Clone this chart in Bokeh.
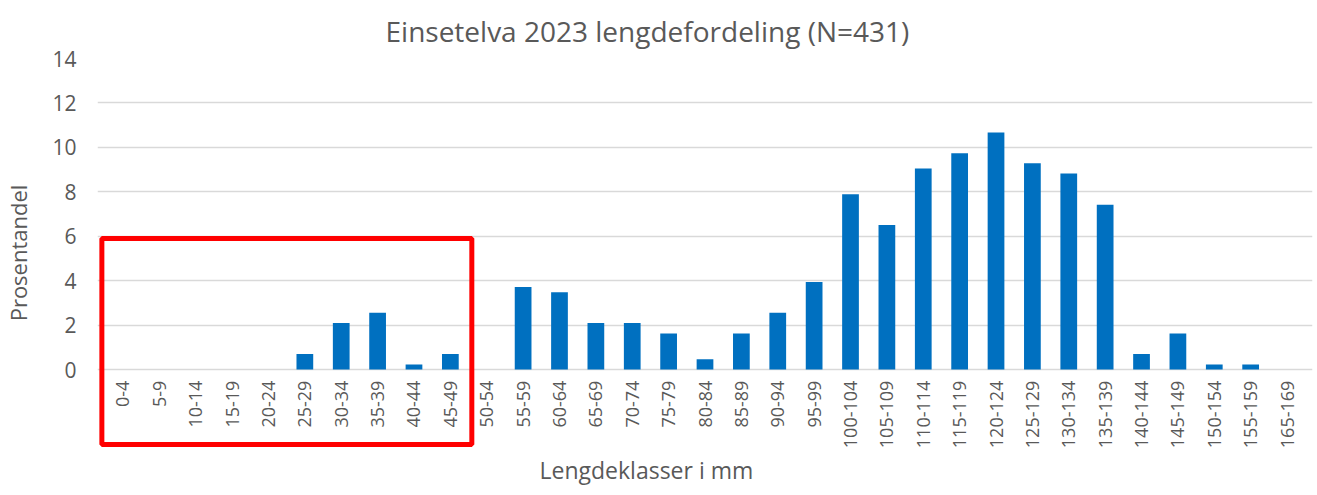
from bokeh.plotting import figure
from bokeh.models import ColumnDataSource, BoxAnnotation, FactorRange, Range1d, FixedTicker, Title
from bokeh.core.properties import value
from bokeh.embed import file_html
from bokeh.resources import INLINE
import math

categories = ["0-4", "5-9", "10-14", "15-19", "20-24", "25-29", "30-34", "35-39", "40-44", "45-49",
              "50-54", "55-59", "60-64", "65-69", "70-74", "75-79", "80-84", "85-89", "90-94", "95-99",
              "100-104", "105-109", "110-114", "115-119", "120-124", "125-129", "130-134", "135-139",
              "140-144", "145-149", "150-154", "155-159", "165-169"]
percent = [0, 0, 0, 0, 0, 0.70, 2.09, 2.55, 0.23, 0.70,
           0, 3.71, 3.48, 2.09, 2.09, 1.62, 0.46, 1.62, 2.55, 3.94,
           7.89, 6.50, 9.05, 9.74, 10.67, 9.28, 8.82, 7.42,
           0.70, 1.62, 0.23, 0.23, 0]
y_ticks = [0, 2, 4, 6, 8, 10, 12, 14]

FONT = "Open Sans"
GREY = "#595959"

source = ColumnDataSource(data=dict(cat=categories, pct=percent))

x_range = FactorRange(*categories, range_padding=0.2, range_padding_units="absolute")
p = figure(x_range=x_range, y_range=Range1d(-3.51, 14),
           frame_width=1215, frame_height=389, output_backend="svg", toolbar_location=None,
           min_border_left=87, min_border_right=2, min_border_top=0, min_border_bottom=0)

p.vbar(x="cat", top="pct", width=0.46, source=source, fill_color="#0070C0", line_color=None)

# category labels (rotated), drawn as text below the zero line
p.text(x="cat", y=-0.5, text="cat", source=source, angle=math.pi / 2,
       text_align="right", text_baseline="middle", text_font=value(FONT),
       text_font_size="18px", text_color=GREY)

top_title = Title(text="Einsetelva 2023 lengdefordeling (N=431)", align="left", offset=288,
                  text_font=FONT, text_font_size="28px", text_font_style="normal",
                  text_color=GREY, standoff=18, text_line_height=0.7)
p.add_layout(top_title, "above")

x_title = Title(text="Lengdeklasser i mm", align="left", offset=442,
                text_font=FONT, text_font_size="23px", text_font_style="normal",
                text_color=GREY, standoff=8)
p.add_layout(x_title, "below")

p.outline_line_color = None
p.xaxis.visible = False
p.xgrid.grid_line_color = None
p.ygrid.ticker = FixedTicker(ticks=y_ticks)
p.ygrid.grid_line_color = "#d9d9d9"
p.ygrid.grid_line_width = 1.3

p.yaxis.ticker = FixedTicker(ticks=y_ticks)
p.yaxis.axis_line_color = None
p.yaxis.major_tick_line_color = None
p.yaxis.minor_tick_line_color = None
p.yaxis.major_label_standoff = 15
p.yaxis.major_label_text_font = FONT
p.yaxis.major_label_text_font_size = "21px"
p.yaxis.major_label_text_color = GREY
p.yaxis.axis_label = "Prosentandel"
p.yaxis.axis_label_text_font = FONT
p.yaxis.axis_label_text_font_size = "22px"
p.yaxis.axis_label_text_font_style = "normal"
p.yaxis.axis_label_text_color = GREY
p.yaxis.axis_label_standoff = 16

box = BoxAnnotation(left=-0.08, right=10.09, top=5.9, bottom=-3.38,
                    fill_alpha=0, line_color="#FF0000", line_alpha=1.0, line_width=5)
p.add_layout(box)

open("out.html", "w").write(file_html(p, INLINE))
